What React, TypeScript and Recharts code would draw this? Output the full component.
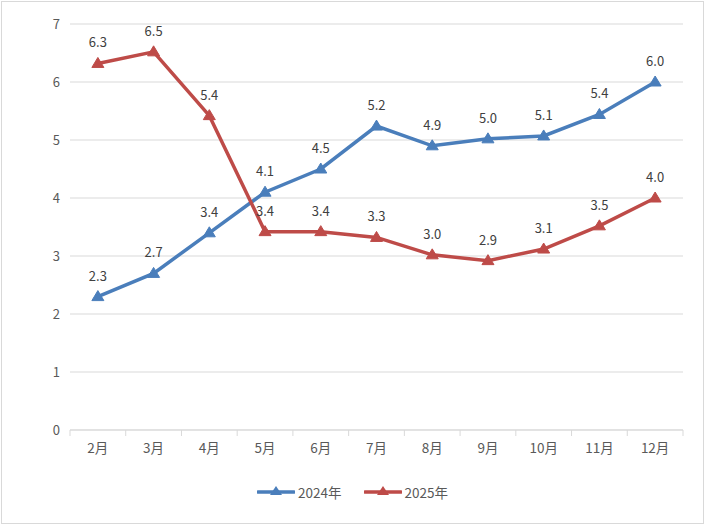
import React from 'react';
import { LineChart, Line, XAxis, YAxis, CartesianGrid, Legend, LabelList } from 'recharts';

const months = ['2月', '3月', '4月', '5月', '6月', '7月', '8月', '9月', '10月', '11月', '12月'];
const s2024 = [2.3, 2.7, 3.4, 4.1, 4.5, 5.24, 4.9, 5.02, 5.07, 5.44, 6.0];
const s2025 = [6.32, 6.52, 5.42, 3.42, 3.42, 3.32, 3.02, 2.92, 3.12, 3.52, 4.0];
const yTicks = [0, 1, 2, 3, 4, 5, 6, 7];
const seriesNames = ['2024年', '2025年'];

const data = months.map((m, i) => ({ month: m, a: s2024[i], b: s2025[i] }));

const BLUE = '#4A7EBB';
const RED = '#BE4B48';
const W = 705;
const H = 525;
const M = { top: 24, right: 22, left: 30, bottom: 65 };
const Y_AXIS_W = 40;
const X_AXIS_H = 30;
const PLOT_LEFT = M.left + Y_AXIS_W;
const PLOT_RIGHT = W - M.right;
const PLOT_BOTTOM = H - M.bottom - X_AXIS_H;
const BAND = (PLOT_RIGHT - PLOT_LEFT) / months.length;
const FONT = '"Noto Sans CJK SC", "Noto Sans", sans-serif';

const Tri = (color: string) => (props: any) => {
  const { cx, cy, index } = props;
  if (cx == null || cy == null) return <g key={index} />;
  return <path key={index} d={`M${cx},${cy - 6} L${cx + 6},${cy + 4} L${cx - 6},${cy + 4} Z`} fill={color} stroke={color} strokeWidth={1} />;
};

const XTick = (props: any) => {
  const { x, payload, index } = props;
  const left = x - BAND / 2;
  return (
    <g>
      <line x1={left} y1={PLOT_BOTTOM} x2={left} y2={PLOT_BOTTOM + 6} stroke="#d9d9d9" />
      {index === months.length - 1 && (
        <line x1={x + BAND / 2} y1={PLOT_BOTTOM} x2={x + BAND / 2} y2={PLOT_BOTTOM + 6} stroke="#d9d9d9" />
      )}
      <text x={x} y={PLOT_BOTTOM + 23} textAnchor="middle" fill="#595959" fontSize={13.5} fontFamily={FONT}>
        {payload.value}
      </text>
    </g>
  );
};

const LegendContent = () => (
  <div style={{ display: 'flex', justifyContent: 'center', gap: 22, fontFamily: FONT, fontSize: 13.5, color: '#595959' }}>
    {[BLUE, RED].map((c, i) => (
      <div key={i} style={{ display: 'flex', alignItems: 'center' }}>
        <svg width={38} height={14}>
          <line x1={1} y1={7} x2={37} y2={7} stroke={c} strokeWidth={3.5} strokeLinecap="round" />
          <path d="M19,1 L25,10 L13,10 Z" fill={c} />
        </svg>
        <span style={{ marginLeft: 3 }}>{seriesNames[i]}</span>
      </div>
    ))}
  </div>
);

export default function App() {
  return (
    <div style={{ position: 'absolute', left: 0, top: 0, width: W, height: H, background: '#fff' }}>
      <div style={{ position: 'absolute', left: 1, top: 1, width: W - 4, height: H - 4, border: '1px solid #d9d9d9' }} />
      <LineChart width={W} height={H} data={data} margin={M} style={{ fontFamily: FONT }}>
        <CartesianGrid vertical={false} stroke="#d9d9d9" />
        <XAxis
          dataKey="month"
          height={X_AXIS_H}
          stroke="#d9d9d9"
          tickLine={false}
          tick={<XTick />}
          interval={0}
          padding={{ left: BAND / 2, right: BAND / 2 }}
        />
        <YAxis
          width={Y_AXIS_W}
          domain={[0, 7]}
          ticks={yTicks}
          axisLine={false}
          tickLine={false}
          tickSize={8}
          tick={{ fill: '#595959', fontSize: 13, fontFamily: FONT }}
        />
        <Legend layout="horizontal" verticalAlign="middle" align="center" content={<LegendContent />} wrapperStyle={{ top: 482, left: 0, width: W }} />
        <Line type="linear" dataKey="a" name={seriesNames[0]} stroke={BLUE} strokeWidth={3.5} dot={Tri(BLUE)} activeDot={false} isAnimationActive={false}>
          <LabelList dataKey="a" position="top" offset={16} fill="#404040" fontSize={13} fontFamily={FONT} formatter={(v: any) => Number(v).toFixed(1)} />
        </Line>
        <Line type="linear" dataKey="b" name={seriesNames[1]} stroke={RED} strokeWidth={3.5} dot={Tri(RED)} activeDot={false} isAnimationActive={false}>
          <LabelList dataKey="b" position="top" offset={16} fill="#404040" fontSize={13} fontFamily={FONT} formatter={(v: any) => Number(v).toFixed(1)} />
        </Line>
      </LineChart>
    </div>
  );
}
